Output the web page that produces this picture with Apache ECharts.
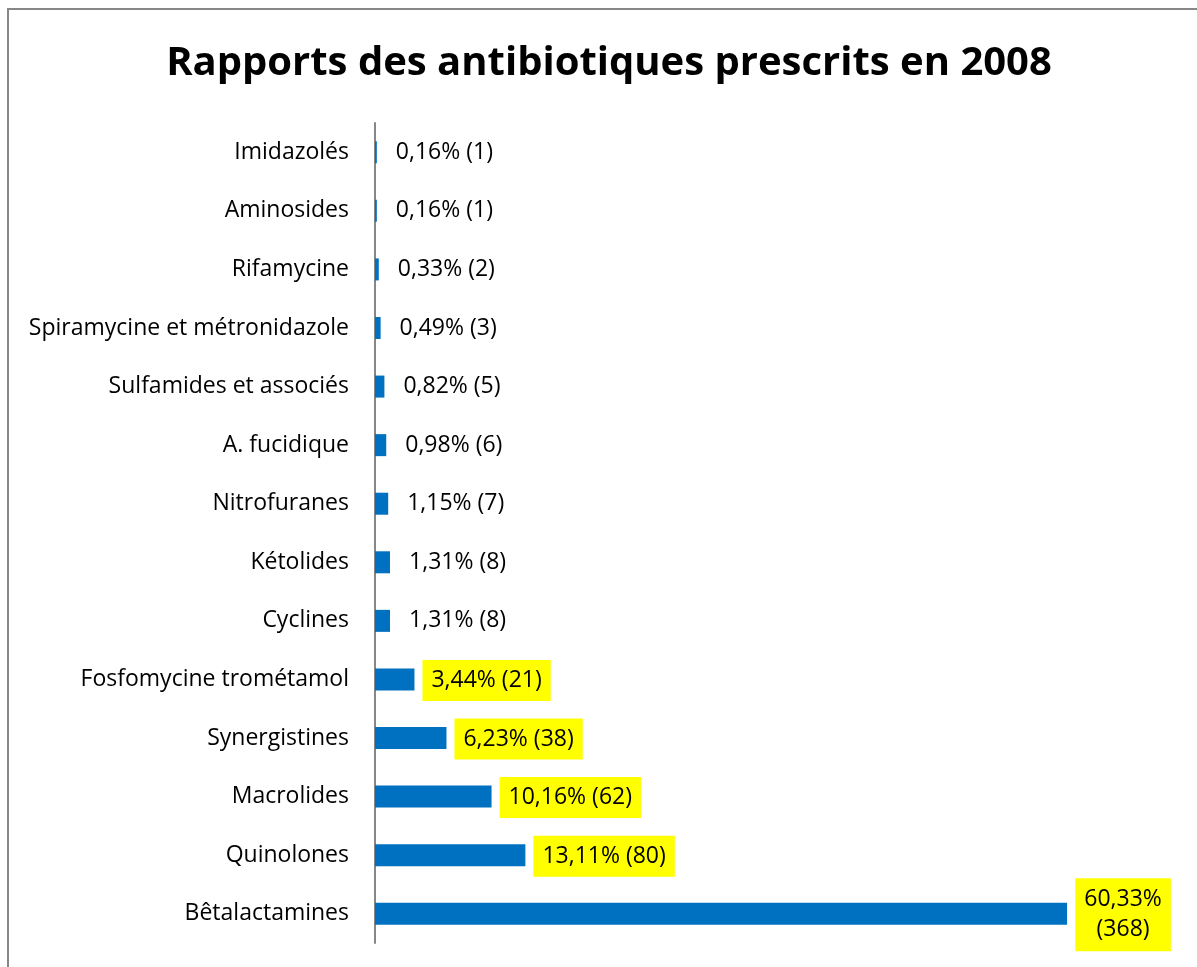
<!DOCTYPE html>
<html>
<head>
<meta charset="utf-8">
<script src="https://cdn.jsdelivr.net/npm/echarts@6/dist/echarts.min.js"></script>
<style>
  html, body { margin: 0; padding: 0; background: #fff; }
  #chart { width: 1197px; height: 967px; }
</style>
</head>
<body>
<div id="chart"></div>
<script>
const categories = [
    "Imidazolés", "Aminosides", "Rifamycine", "Spiramycine et métronidazole",
    "Sulfamides et associés", "A. fucidique", "Nitrofuranes", "Kétolides",
    "Cyclines", "Fosfomycine trométamol", "Synergistines", "Macrolides",
    "Quinolones", "Bêtalactamines"
];
const percents = [0.16, 0.16, 0.33, 0.49, 0.82, 0.98, 1.15, 1.31, 1.31, 3.44, 6.23, 10.16, 13.11, 60.33];
const counts = [1, 1, 2, 3, 5, 6, 7, 8, 8, 21, 38, 62, 80, 368];

const fontName = "Open Sans";
const highlightFrom = 3;

const fmt = (v) => v.toFixed(2).replace(".", ",") + "%";

const barData = percents.map((p, i) => {
    const hl = p >= highlightFrom;
    const wrap = p > 50;
    return {
        value: p,
        label: hl ? {
            backgroundColor: "#ffff00",
            padding: wrap ? [7, 9, 6, 9] : [8, 9, 7, 9],
            distance: 8,
            align: wrap ? "center" : "left",
            formatter: wrap ? `${fmt(p)}\n(${counts[i]})` : `${fmt(p)} (${counts[i]})`,
            lineHeight: wrap ? 30 : 26,
            offset: wrap ? [48, 1] : [0, 1]
        } : {
            distance: 19,
            formatter: `${fmt(p)} (${counts[i]})`
        }
    };
});

const chart = echarts.init(document.getElementById("chart"));

chart.setOption({
    animation: false,
    textStyle: { fontFamily: fontName },
    title: {
        text: "Rapports des antibiotiques prescrits en 2008",
        left: 604,
        top: 39,
        textAlign: "center",
        textStyle: { fontSize: 40, fontWeight: "bold", color: "#000", fontFamily: fontName }
    },
    graphic: [{
        type: "rect",
        shape: { x: 8, y: 9, width: 1300, height: 1000 },
        style: { fill: "none", stroke: "#878787", lineWidth: 2 },
        z: -1
    }],
    grid: { left: 375, top: 123, width: 803, height: 820 },
    xAxis: {
        type: "value",
        min: 0,
        max: 70,
        show: false
    },
    yAxis: {
        type: "category",
        inverse: true,
        data: categories,
        axisLine: { lineStyle: { color: "#878787", width: 2 } },
        axisTick: { show: false },
        axisLabel: { color: "#000", fontSize: 23, margin: 26, fontFamily: fontName }
    },
    series: [{
        type: "bar",
        data: barData,
        barWidth: 22,
        itemStyle: { color: "#0070c0" },
        label: {
            show: true,
            position: "right",
            color: "#000",
            fontSize: 23,
            fontFamily: fontName
        }
    }]
});
</script>
</body>
</html>
